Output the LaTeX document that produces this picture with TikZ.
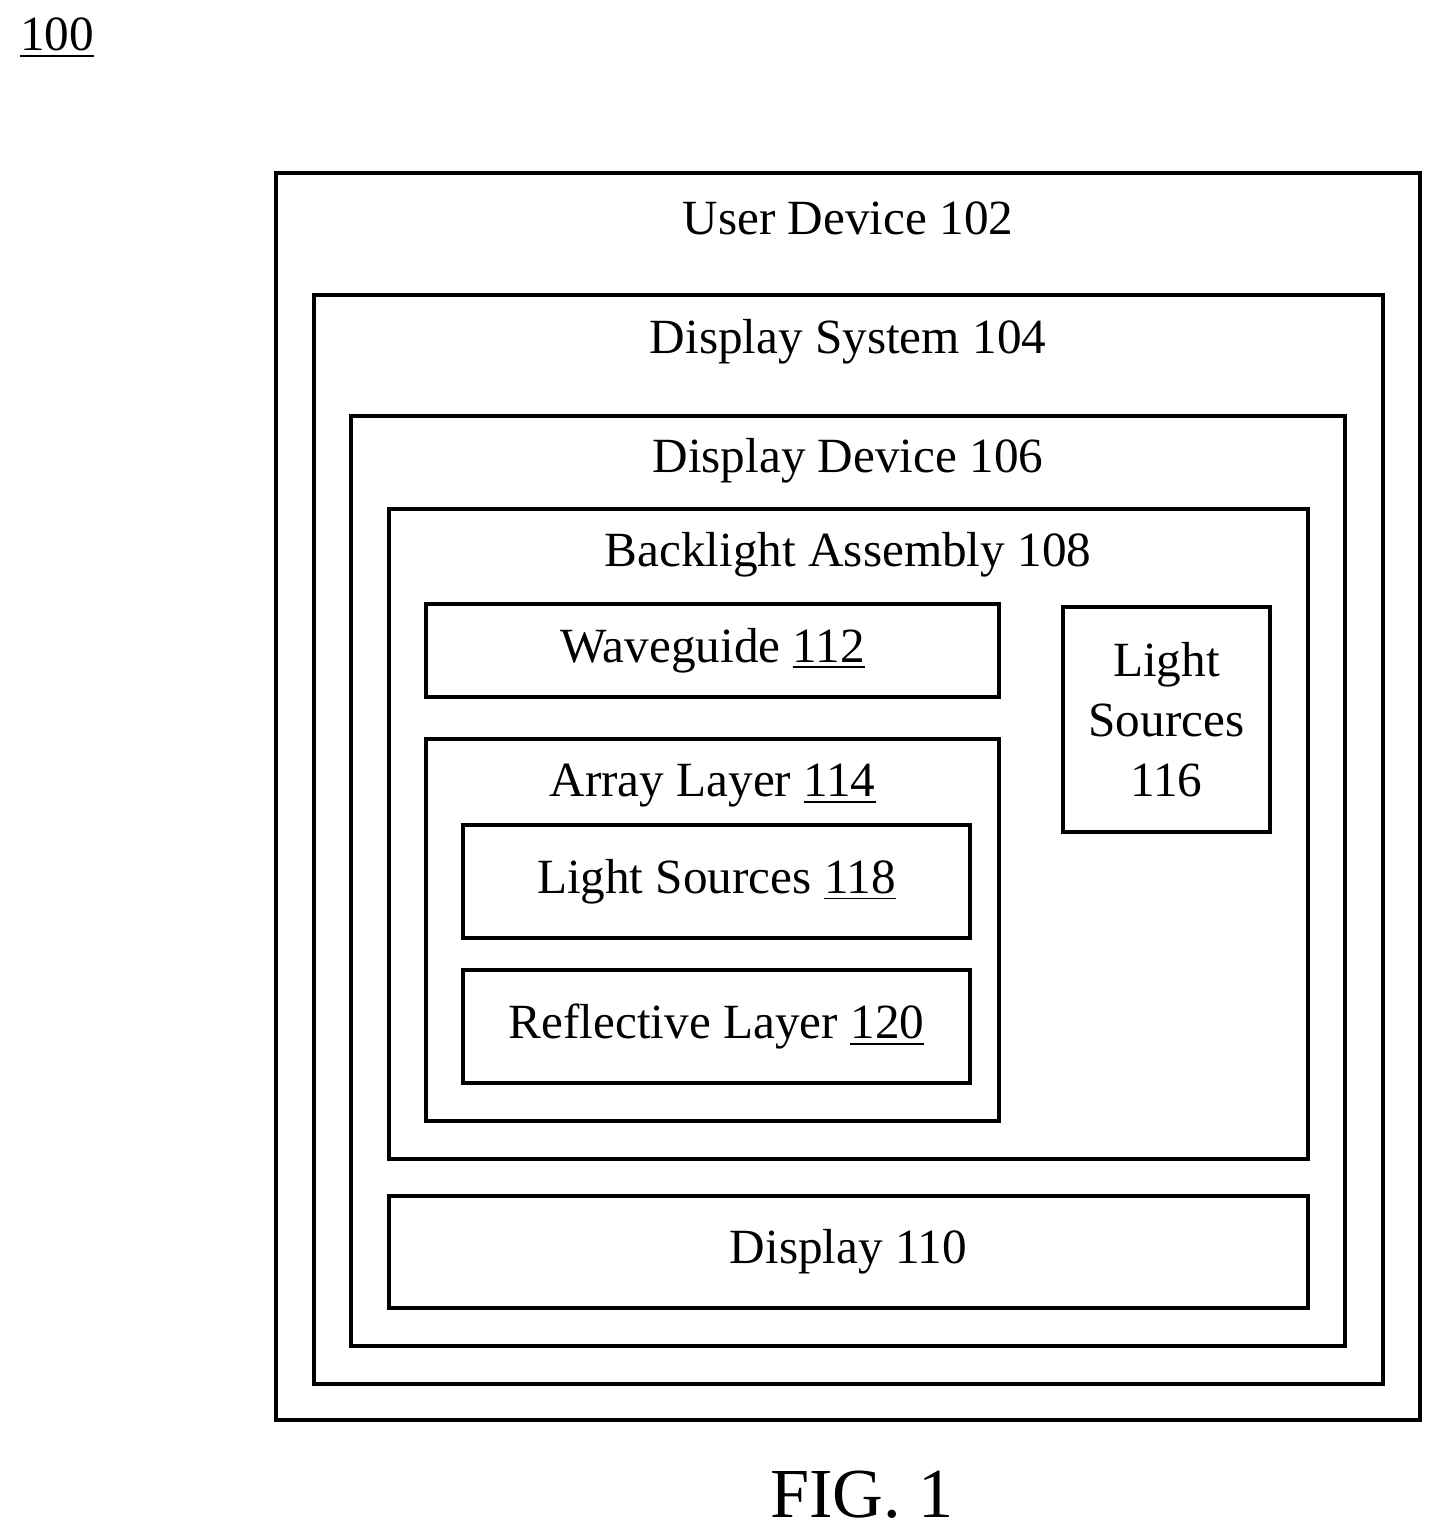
\documentclass[tikz,border=0pt]{standalone}
\usepackage{fontspec}
\setmainfont{Liberation Serif}
\usetikzlibrary{positioning}

\tikzset{
  box/.style={draw,line width=0.9pt,inner sep=0pt,align=center,font=\fontsize{14}{17}\selectfont},
  title/.style={font=\fontsize{14}{17}\selectfont,inner sep=0pt}
}

\begin{document}
\begin{tikzpicture}
\useasboundingbox (0,0) rectangle (14.42,-15.39);

\node[title] (fig) at (0.57,-0.38) {\underline{100}};

\node[box,minimum width=11.44cm,minimum height=12.47cm] (UserDevice) at (8.48,-7.965) {};
\node[box,minimum width=10.69cm,minimum height=10.89cm] (DisplaySystem) at (8.485,-8.395) {};
\node[box,minimum width=9.94cm,minimum height=9.30cm] (DisplayDevice) at (8.48,-8.81) {};
\node[box,minimum width=9.19cm,minimum height=6.50cm] (Backlight) at (8.485,-8.34) {};
\node[box,minimum width=5.73cm,minimum height=0.93cm] (Waveguide) at (7.125,-6.505) {Waveguide \underline{112}};
\node[box,minimum width=5.73cm,minimum height=3.82cm] (ArrayLayer) at (7.125,-9.30) {};
\node[box,minimum width=5.07cm,minimum height=1.13cm] (LightSrcA) at (7.165,-8.815) {Light Sources \underline{118}};
\node[box,minimum width=5.07cm,minimum height=1.13cm] (Reflective) at (7.165,-10.265) {Reflective Layer \underline{120}};
\node[box,minimum width=2.07cm,minimum height=2.25cm] (LightSrcB) at (11.665,-7.195) {Light\\Sources\\116};
\node[box,minimum width=9.19cm,minimum height=1.12cm] (Display) at (8.485,-12.52) {Display 110};

\node[title] (udl) at (8.48,-2.18) {User Device 102};
\node[title] (dsl) at (8.48,-3.42) {Display System 104};
\node[title] (ddl) at (8.48,-4.61) {Display Device 106};
\node[title] (bal) at (8.48,-5.55) {Backlight Assembly 108};
\node[title] (all) at (7.125,-7.86) {Array Layer \underline{114}};

\node[inner sep=0pt,font=\fontsize{20}{24}\selectfont] (caption) at (8.62,-14.95) {FIG. 1};
\end{tikzpicture}
\end{document}
